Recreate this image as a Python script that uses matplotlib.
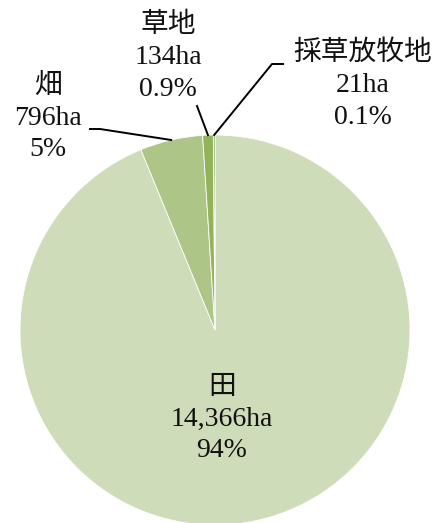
import numpy as np
import matplotlib
matplotlib.use("Agg")
import matplotlib.pyplot as plt

categories = ["田", "畑", "草地", "採草放牧地"]
areas = [14366, 796, 134, 21]
area_labels = ["14,366ha", "796ha", "134ha", "21ha"]
pct_labels = ["94%", "5%", "0.9%", "0.1%"]
colors = ["#cfdcb9", "#adc688", "#93b35a", "#6f9a3a"]

W, H = 432, 523
fig = plt.figure(figsize=(W / 100, H / 100), dpi=100)
ax = fig.add_axes([0, 0, 1, 1])
cx, cy, R = 215, 330, 195  # pixel geometry (from top)

wedges, _ = ax.pie(areas, colors=colors, startangle=90, counterclock=False,
                   radius=1.0, wedgeprops=dict(edgecolor="white", linewidth=0.6))
ax.set_xlim(-cx / R, (W - cx) / R)
ax.set_ylim(-(H - cy) / R, cy / R)
ax.set_aspect("auto")
ax.axis("off")


def px(x, y):
    return ((x - cx) / R, (cy - y) / R)


fam = ["Liberation Serif", "Noto Sans CJK JP"]
fs = 20

# label positions (pixel coords of centre of text block)
label_pos = [(222, 419), (48, 118), (168, 57), (363, 85)]
for i, (x, y) in enumerate(label_pos):
    tx, ty = px(x, y)
    ax.text(tx, ty, f"{categories[i]}\n{area_labels[i]}\n{pct_labels[i]}",
            ha="center", va="center", fontsize=fs, family=fam,
            linespacing=1.36, color="#111111")


def edge_point(i):
    w = wedges[i]
    th = np.deg2rad((w.theta1 + w.theta2) / 2)
    return np.cos(th), np.sin(th)

# leader lines
e1 = edge_point(1)
p0 = px(90, 129); p1 = px(100, 129)
ax.plot([p0[0], p1[0], e1[0]], [p0[1], p1[1], e1[1]], color="black", lw=1.4)

e2 = edge_point(2)
q0 = px(197, 106)
ax.plot([q0[0], e2[0]], [q0[1], e2[1]], color="black", lw=1.4)

e3 = edge_point(3)
r0 = px(283, 64); r1 = px(272, 64)
ax.plot([r0[0], r1[0], e3[0]], [r0[1], r1[1], e3[1]], color="black", lw=1.4)

fig.savefig("out.png", dpi=100)
